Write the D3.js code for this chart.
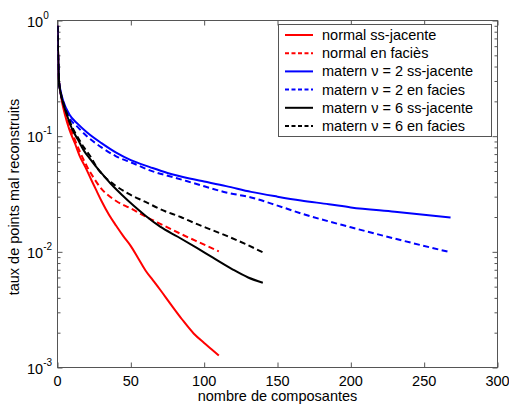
<!DOCTYPE html>
<html>
<head>
<meta charset="utf-8">
<script src="https://cdn.jsdelivr.net/npm/d3@7"></script>
<style>
  html, body { margin: 0; padding: 0; background: #fff; }
  svg text { font-family: "Liberation Sans", Arial, Helvetica, sans-serif; fill: #000; }
</style>
</head>
<body>
<svg id="chart" width="509" height="405"></svg>
<script>
// ---- data ----
const normalSsX   = [0, 1, 2, 3, 5, 8, 12, 15, 19, 23, 26, 30, 35, 40, 45, 50, 55, 60, 65, 70, 77, 85, 93, 100, 105, 110];
const normalSsY   = [0.9, 0.3, 0.24, 0.2, 0.155, 0.115, 0.086, 0.068, 0.054, 0.042, 0.035, 0.0275, 0.021, 0.0168, 0.0136, 0.0112, 0.0088, 0.0069, 0.0057, 0.0047, 0.00355, 0.0026, 0.00196, 0.00163, 0.00144, 0.00127];

const normalFaX   = [0, 1, 2, 3, 5, 8, 12, 16, 20, 25, 30, 35, 40, 50, 60, 72, 85, 94, 110];
const normalFaY   = [0.9, 0.3, 0.25, 0.21, 0.165, 0.125, 0.092, 0.07, 0.055, 0.043, 0.035, 0.0305, 0.0275, 0.0237, 0.0202, 0.017, 0.0141, 0.0125, 0.0101];

const matern2SsX  = [0, 1, 2, 4, 8, 14, 20, 30, 40, 50, 63, 75, 90, 100, 115, 132, 150, 166, 185, 200, 230, 268];
const matern2SsY  = [0.9, 0.3, 0.25, 0.2, 0.155, 0.127, 0.108, 0.087, 0.072, 0.062, 0.054, 0.048, 0.043, 0.0405, 0.037, 0.033, 0.030, 0.0278, 0.0258, 0.0242, 0.0222, 0.0198];

const matern2FaX  = [0, 1, 2, 4, 8, 14, 20, 30, 40, 52, 63, 80, 100, 115, 132, 150, 166, 200, 230, 268];
const matern2FaY  = [0.9, 0.3, 0.24, 0.19, 0.145, 0.119, 0.1, 0.08, 0.067, 0.058, 0.0506, 0.0438, 0.0369, 0.0326, 0.0295, 0.0251, 0.0215, 0.0163, 0.013, 0.0099];

const matern6SsX  = [0, 1, 2, 4, 7, 10, 14, 18, 22, 26, 30, 37, 44, 52, 60, 70, 82, 95, 106, 119, 130, 140];
const matern6SsY  = [0.9, 0.3, 0.24, 0.19, 0.145, 0.115, 0.093, 0.075, 0.064, 0.055, 0.048, 0.038, 0.031, 0.025, 0.0205, 0.0165, 0.0135, 0.0108, 0.0089, 0.0071, 0.006, 0.0054];

const matern6FaX  = [0, 1, 2, 4, 7, 10, 14, 18, 22, 28, 31, 40, 48, 60, 72, 84, 94, 105, 115, 128, 140];
const matern6FaY  = [0.9, 0.3, 0.245, 0.195, 0.15, 0.12, 0.097, 0.08, 0.068, 0.051, 0.046, 0.037, 0.032, 0.027, 0.0228, 0.02, 0.0176, 0.0155, 0.0138, 0.0117, 0.0099];

const seriesNames  = ["normal ss-jacente", "normal en faciès", "matern ν = 2 ss-jacente", "matern ν = 2 en facies", "matern ν = 6 ss-jacente", "matern ν = 6 en facies"];
const seriesColors = ["#ff0000", "#ff0000", "#0000ff", "#0000ff", "#000000", "#000000"];
const seriesDashed = [false, true, false, true, false, true];
const seriesX = [normalSsX, normalFaX, matern2SsX, matern2FaX, matern6SsX, matern6FaX];
const seriesY = [normalSsY, normalFaY, matern2SsY, matern2FaY, matern6SsY, matern6FaY];

const xTicks = [0, 50, 100, 150, 200, 250, 300];
const yMajorExp = [0, -1, -2, -3];
const xLabel = "nombre de composantes";
const yLabel = "taux de points mal reconstruits";

// ---- layout ----
const svg = d3.select("#chart");
const pL = 57.5, pR = 497.5, pT = 20.5, pB = 367.5;

const x = d3.scaleLinear().domain([0, 300]).range([pL, pR]);
const y = d3.scaleLog().domain([1e-3, 1]).range([pB, pT]);

const yMajor = yMajorExp.map(e => Math.pow(10, e));
const yMinor = [];
for (let e = -3; e < 0; e++) for (let m = 2; m <= 9; m++) yMinor.push(m * Math.pow(10, e));

const axisColor = "#555";

// box
svg.append("rect").attr("x", pL).attr("y", pT)
  .attr("width", pR - pL).attr("height", pB - pT)
  .attr("fill", "none").attr("stroke", axisColor).attr("stroke-width", 1);

function styleAxis(g) {
  g.select(".domain").remove();
  g.selectAll("line").attr("stroke", axisColor);
  g.selectAll("text").remove();
}

// x ticks bottom & top (inward)
svg.append("g").attr("transform", `translate(0,${pB})`)
  .call(d3.axisBottom(x).tickValues(xTicks).tickSize(-5).tickFormat("")).call(styleAxis);
svg.append("g").attr("transform", `translate(0,${pT})`)
  .call(d3.axisTop(x).tickValues(xTicks).tickSize(-5).tickFormat("")).call(styleAxis);
// y ticks left & right major/minor
svg.append("g").attr("transform", `translate(${pL},0)`)
  .call(d3.axisLeft(y).tickValues(yMajor).tickSize(-5).tickFormat("")).call(styleAxis);
svg.append("g").attr("transform", `translate(${pL},0)`)
  .call(d3.axisLeft(y).tickValues(yMinor).tickSize(-3).tickFormat("")).call(styleAxis);
svg.append("g").attr("transform", `translate(${pR},0)`)
  .call(d3.axisRight(y).tickValues(yMajor).tickSize(-5).tickFormat("")).call(styleAxis);
svg.append("g").attr("transform", `translate(${pR},0)`)
  .call(d3.axisRight(y).tickValues(yMinor).tickSize(-3).tickFormat("")).call(styleAxis);

// x tick labels
svg.append("g").selectAll("text").data(xTicks).join("text")
  .attr("x", d => x(d)).attr("y", 386)
  .attr("text-anchor", "middle").attr("font-size", 14.5)
  .text(d => d);

// y tick labels with superscript
const yl = svg.append("g").selectAll("text").data(yMajorExp).join("text")
  .attr("x", 27).attr("y", d => y(Math.pow(10, d)) + 6)
  .attr("text-anchor", "start").attr("font-size", 14.5);
yl.append("tspan").text("10");
yl.append("tspan").attr("dy", -8).attr("font-size", 10).text(d => d === 0 ? "0" : "-" + Math.abs(d));

// axis labels
svg.append("text").attr("x", (pL + pR) / 2).attr("y", 401)
  .attr("text-anchor", "middle").attr("font-size", 14.5).text(xLabel);
svg.append("text")
  .attr("transform", `translate(19,${(pT + pB) / 2 + 3}) rotate(-90)`)
  .attr("text-anchor", "middle").attr("font-size", 14.5).text(yLabel);

// curves
svg.append("clipPath").attr("id", "clip")
  .append("rect").attr("x", pL).attr("y", pT).attr("width", pR - pL).attr("height", pB - pT);
const line = d3.line().x(d => x(d[0])).y(d => y(d[1])).curve(d3.curveMonotoneX);
const plot = svg.append("g").attr("clip-path", "url(#clip)");
seriesX.forEach((xs, i) => {
  const pts = xs.map((v, j) => [v, seriesY[i][j]]);
  plot.append("path").datum(pts)
    .attr("d", line)
    .attr("fill", "none")
    .attr("stroke", seriesColors[i])
    .attr("stroke-width", 2)
    .attr("stroke-linejoin", "round")
    .attr("stroke-dasharray", seriesDashed[i] ? "6,3.5" : null);
});

// legend
const lgX = 278.5, lgY = 24.5, lgW = 213, lgH = 112;
svg.append("rect").attr("x", lgX).attr("y", lgY).attr("width", lgW).attr("height", lgH)
  .attr("fill", "#fff").attr("stroke", axisColor).attr("stroke-width", 1);
const rowY = i => 35 + i * 18.2;
const lg = svg.append("g").selectAll("g").data(seriesNames).join("g");
lg.append("line")
  .attr("x1", 285).attr("x2", 313)
  .attr("y1", (d, i) => rowY(i)).attr("y2", (d, i) => rowY(i))
  .attr("stroke", (d, i) => seriesColors[i]).attr("stroke-width", 2)
  .attr("stroke-dasharray", (d, i) => seriesDashed[i] ? "4,2.5" : null);
lg.append("text")
  .attr("x", 322).attr("y", (d, i) => rowY(i) + 5)
  .attr("font-size", 14.5).text(d => d);
</script>
</body>
</html>
